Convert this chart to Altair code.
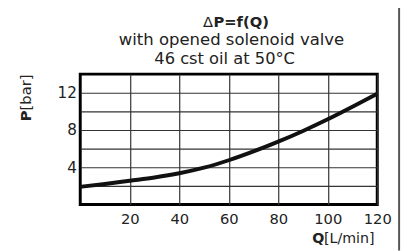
import altair as alt
import pandas as pd

# Data
Q = [0, 10, 20, 30, 40, 50, 60, 70, 80, 90, 100, 110, 120]
P = [1.9, 2.2, 2.55, 2.9, 3.35, 3.95, 4.75, 5.7, 6.75, 7.9, 9.15, 10.5, 11.9]
X_TICKS = [20, 40, 60, 80, 100, 120]
Y_GRID = [2, 4, 6, 8, 10, 12]
TITLE_DELTA = "Δ"
TITLE_MAIN = "P=f(Q)"
SUB1 = "with opened solenoid valve"
SUB2 = "46 cst oil at 50°C"
XT_BOLD, XT_REST = "Q", "[L/min]"
YT_BOLD, YT_REST = "P", "[bar]"

df = pd.DataFrame({"Q": Q, "P": P})
FONT = "DejaVu Sans"
W, H = 303, 133

line = alt.Chart(df).mark_line(color="#111111", strokeWidth=4, interpolate="monotone").encode(
    x=alt.X("Q:Q", scale=alt.Scale(domain=[0, 120], nice=False),
            axis=alt.Axis(values=X_TICKS, grid=True, gridColor="#333333", gridWidth=1.2,
                          domain=False, ticks=False, labelPadding=7, labelFontSize=15,
                          labelFont=FONT, labelColor="#222222", title=None,
                          labelFlush=False)),
    y=alt.Y("P:Q", scale=alt.Scale(domain=[0, 14], nice=False),
            axis=alt.Axis(values=Y_GRID, grid=True, gridColor="#333333", gridWidth=1.2,
                          domain=False, ticks=False, labelPadding=4, labelFontSize=15.5,
                          labelFont=FONT, labelColor="#222222", title=None,
                          labelExpr="datum.value % 4 == 0 ? datum.label : ''")),
)

one = pd.DataFrame({"a": [0]})

def txt(s, x, y, size=15, bold=False, align="center", angle=0, baseline="alphabetic"):
    kw = dict(text=s, font=FONT, fontSize=size, fontWeight="bold" if bold else "normal",
              align=align, baseline=baseline, color="#222222")
    if angle:
        kw["angle"] = angle
    return alt.Chart(one).mark_text(**kw).encode(x=alt.value(x), y=alt.value(y))

texts = [
    txt(TITLE_DELTA, 135.5, -48, 15, False, "right"),
    txt(TITLE_MAIN, 136, -48, 15, True, "left"),
    txt(SUB1, 154.3, -30, 16.8),
    txt(SUB2, 147.3, -10, 16.6),
    txt(XT_BOLD, 249, 172, 14.5, True, "right"),
    txt(XT_REST, 300.3, 172, 14.5, False, "right"),
    txt(YT_BOLD, -50.5, 37, 15, True, "right", 270),
    txt(YT_REST, -50.5, 37, 15, False, "left", 270),
]

border = alt.Chart(one).mark_rule(color="#555555", strokeWidth=2).encode(
    x=alt.value(325.3), y=alt.value(-75), y2=alt.value(180))

chart = alt.layer(line, *texts, border).properties(
    width=W, height=H,
    autosize=alt.AutoSizeParams(type="none"),
    padding={"left": 73.7, "top": 65, "right": 27.3, "bottom": 45},
    background="white",
).configure_view(stroke="black", strokeWidth=3)

chart.save("out.html", embed_options={"renderer": "svg", "actions": False})
